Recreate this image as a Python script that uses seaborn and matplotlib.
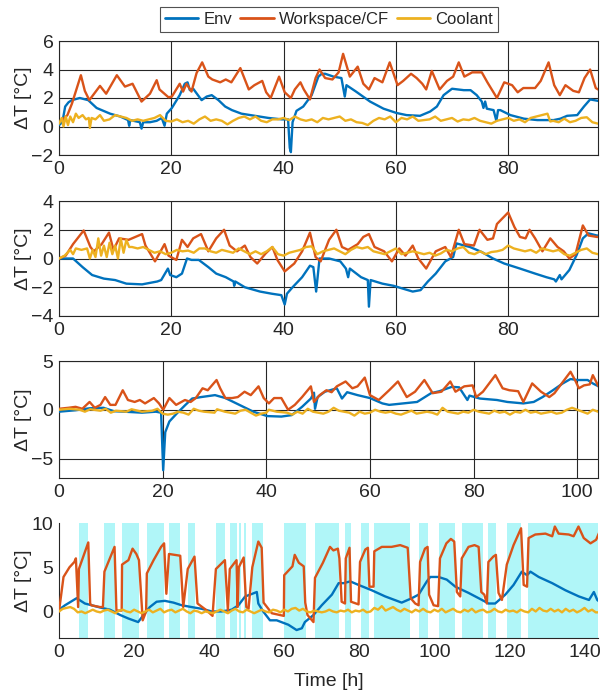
import matplotlib
matplotlib.use("Agg")
import matplotlib.pyplot as plt
from matplotlib.lines import Line2D
import numpy as np
import pandas as pd
import seaborn as sns

sns.set_style("white")
plt.rcParams['font.family'] = ['Liberation Sans', 'DejaVu Sans']

C_ENV = "#0072BD"
C_WS = "#D95319"
C_COOL = "#EDB120"
SPAN_C = "#b0f6f8"
TXT = "#262626"

# ---------------- Panel 1 ----------------
p1_env_t = [0, 0.6, 1.1, 1.7, 2.3, 3.7, 5.2, 6.7, 9.1, 10.9, 12.3, 12.5, 12.7, 14.4, 14.7, 15.0, 16.2, 17.4, 18.3, 18.8, 19.2,
            20.1, 21.5, 22.4, 22.9, 23.3, 23.9, 25.4, 26.3, 27.2, 28.4, 29.6, 30.8, 32.5, 34.9, 37.3, 39.7, 40.8, 41.1, 41.3,
            41.6, 42.3, 43.5, 45.0, 46.2, 46.8, 47.4, 48.9, 50.3, 50.9, 51.2, 52.9, 55.4, 57.8, 60.1, 61.9, 64.3, 66.1, 67.3,
            68.5, 70.0, 72.1, 73.3, 74.4, 75.3, 75.6, 75.9, 76.2, 77.4, 77.9, 78.2, 78.6, 80.4, 82.8, 85.2, 88.1, 89.3, 90.5,
            92.3, 93.5, 94.6, 96.0]
p1_env_v = [0.1, 0.3, 1.4, 1.7, 1.85, 2.0, 1.85, 1.3, 0.9, 0.7, 0.45, 0.05, 0.45, 0.3, -0.15, 0.3, 0.3, 0.4, 0.6, 0.05, 0.9,
            1.3, 2.2, 3.0, 3.1, 2.55, 2.65, 1.85, 2.1, 2.2, 1.85, 1.4, 1.15, 0.9, 0.75, 0.6, 0.5, 0.5, -1.5, -1.8,
            0.3, 1.1, 1.4, 2.2, 3.5, 3.7, 3.7, 3.5, 3.4, 2.1, 2.9, 2.45, 1.75, 1.25, 0.95, 0.8, 0.75, 1.05, 1.4,
            2.2, 2.65, 2.55, 2.55, 2.2, 1.75, 1.3, 1.75, 1.25, 1.15, 0.4, 1.15, 1.15, 0.8, 0.55, 0.45, 0.45, 0.55, 0.75,
            0.8, 1.4, 1.9, 1.8]
p1_ws_t = [0.7, 1.5, 2.3, 3.1, 3.9, 4.6, 5.4, 7.3, 8.4, 10.3, 11.75, 13.1, 14.7, 16.2, 17.4, 17.9, 19.5, 20.1, 21.5, 22.1, 22.7,
           23.6, 24.5, 25.5, 26.6, 27.3, 28.7, 29.7, 30.7, 32.3, 33.8, 34.8, 36.2, 36.9, 37.7, 39.2, 40.2, 41.3, 42.0, 43.0,
           43.6, 44.7, 45.7, 46.4, 47.4, 48.7, 49.8, 50.6, 51.8, 53.2, 54.2, 55.2, 56.2, 57.6, 58.9, 60.3, 61.3, 62.7, 63.7,
           64.7, 65.4, 66.4, 67.8, 69.1, 70.2, 71.2, 72.2, 73.6, 75.3, 76.3, 78.0, 79.3, 80.7, 81.7, 82.7, 84.8, 85.8, 87.2,
           88.2, 89.2, 90.2, 91.6, 92.6, 93.6, 94.6, 95.6, 96.0]
p1_ws_v = [0.5, 0.8, 1.6, 2.6, 3.6, 2.5, 1.85, 2.85, 2.3, 3.6, 2.8, 3.0, 1.75, 2.3, 3.25, 2.6, 2.05, 2.1, 3.0, 2.45, 3.0,
           2.45, 3.75, 4.5, 3.5, 3.3, 3.1, 3.3, 3.1, 4.1, 2.6, 2.9, 3.2, 2.4, 2.0, 3.5, 2.4, 2.0, 2.6, 3.1,
           2.6, 1.9, 3.4, 4.0, 3.4, 3.3, 3.8, 5.1, 3.5, 4.2, 3.0, 2.6, 3.4, 3.1, 4.5, 2.9, 3.2, 3.7, 3.4,
           3.0, 2.6, 3.9, 2.6, 3.2, 3.5, 4.5, 3.5, 3.8, 3.8, 3.1, 2.0, 3.1, 2.9, 2.4, 2.7, 2.7, 3.2, 4.5,
           2.9, 2.2, 2.9, 2.5, 2.4, 3.4, 4.0, 2.7, 2.6]
p1_cool_t = [0, 0.5, 0.8, 1.2, 1.6, 2.0, 2.5, 3.0, 3.5, 4.2, 4.8, 5.3, 5.5, 5.8, 6.5, 7.3, 8, 9, 10, 11, 12, 13, 14, 15, 16,
             17, 18, 19, 20, 21, 22, 23, 24, 25, 26, 27, 28, 29, 30, 31, 32, 33, 34, 35, 36, 37, 38, 39, 40, 41, 42, 43,
             44, 45, 46, 47, 48, 49, 50, 51, 52, 53, 54, 55, 56, 57, 58, 59, 60, 61, 62, 63, 64, 65, 66, 67, 68, 69, 70,
             71, 72, 73, 74, 75, 76, 77, 78, 79, 80, 81, 82, 83, 84, 85, 86, 87, 87.5, 88, 89, 90, 91, 92, 93, 94, 95, 96]
p1_cool_v = [0.2, 0.6, 0.0, 0.7, 0.1, 0.7, 0.3, 0.9, 0.6, 0.8, 0.5, 0.6, -0.1, 0.6, 0.5, 0.8, 0.4, 0.5, 0.8, 0.7, 0.6, 0.4,
             0.5, 0.4, 0.5, 0.6, 0.8, 0.4, 0.35, 0.5, 0.3, 0.4, 0.2, 0.5, 0.7, 0.4, 0.5, 0.4, 0.15, 0.4, 0.6, 0.7, 0.5,
             0.7, 0.4, 0.3, 0.5, 0.5, 0.6, 0.45, 0.7, 0.5, 0.4, 0.5, 0.3, 0.6, 0.5, 0.6, 0.7, 0.4, 0.5, 0.3, 0.25, 0.1,
             0.4, 0.6, 0.5, 0.7, 0.3, 0.6, 0.5, 0.7, 0.4, 0.45, 0.5, 0.7, 0.4, 0.5, 0.6, 0.35, 0.5, 0.45, 0.6, 0.4, 0.3,
             0.2, 0.4, 0.5, 0.6, 0.4, 0.5, 0.3, 0.6, 0.7, 0.8, 0.9, 0.35, 0.4, 0.3, 0.55, 0.3, 0.4, 0.6, 0.65, 0.3, 0.2]

# ---------------- Panel 2 ----------------
p2_env_t = [0, 2.5, 4.2, 5.9, 8.0, 10.0, 12.0, 14.8, 17.5, 18.2, 19.4, 19.8, 20.9, 21.9, 22.8, 23.6, 24.9, 26.6, 28.0, 29.7,
            31.1, 31.2, 31.4, 33.1, 35.8, 37.9, 39.6, 40.2, 40.6, 41.6, 43.3, 44.7, 45.3, 45.8, 46.4, 48.1, 50.1, 51.1,
            51.5, 51.8, 53.8, 55.0, 55.2, 55.5, 57.6, 59.6, 61.7, 63.0, 64.4, 65.7, 67.1, 68.8, 70.2, 70.8, 72.2, 73.2,
            75.3, 77.3, 79.3, 82.1, 84.8, 86.8, 88.2, 88.5, 89.2, 89.5, 90.9, 92.2, 93.3, 94.3, 95.8, 96.0]
p2_env_v = [0, 0, -0.6, -1.15, -1.4, -1.5, -1.75, -1.8, -1.6, -1.5, -0.7, -1.15, -1.3, -1.05, 0, -0.1, -0.1, -0.6, -1.05, -1.3,
            -1.6, -1.9, -1.6, -2.0, -2.3, -2.45, -2.55, -3.2, -2.45, -2.0, -1.3, -0.5, -0.6, -2.3, 0.0, 0.0, -0.2, -0.7,
            -1.3, -0.7, -1.3, -1.5, -3.35, -1.5, -1.75, -1.9, -2.15, -2.3, -2.2, -1.6, -1.05, -0.2, 0.1, 1.05, 0.9, 0.8,
            0.45, 0.0, -0.35, -0.7, -1.05, -1.3, -1.45, -1.6, -1.15, -1.45, -0.8, 0.25, 1.4, 1.75, 1.6, 1.6]
p2_ws_t = [0, 1.2, 2.5, 4.4, 5.6, 6.2, 7.6, 8.9, 9.7, 10.7, 12.4, 14.8, 15.4, 17.1, 18.8, 19.5, 20.9, 21.9, 22.9, 23.9, 25.3,
           26.6, 28.0, 29.4, 30.4, 31.7, 33.1, 34.1, 35.3, 36.8, 38.0, 38.9, 40.2, 41.9, 43.3, 44.7, 45.7, 46.6, 48.1,
           49.4, 50.4, 51.5, 53.2, 54.2, 55.2, 56.2, 57.9, 59.3, 60.6, 61.7, 63.0, 64.0, 65.4, 67.1, 68.8, 69.8, 71.2,
           72.2, 73.9, 74.9, 76.3, 77.3, 78.0, 80.0, 81.1, 82.1, 83.1, 83.8, 84.8, 86.1, 87.5, 88.8, 89.9, 90.9, 92.0,
           93.3, 94.3, 95.8, 96.0]
p2_ws_v = [0, 0.2, 1.0, 1.95, 0.8, 0.5, 1.0, 1.8, 0.6, 1.4, 1.3, 1.7, 0.9, -0.2, 1.0, 0.2, -0.1, 1.3, 0.8, 1.4, 1.7,
           0.5, 1.4, 2.0, 0.9, 0.5, 0.9, 0.1, -0.35, 0.35, 0.8, -0.1, -0.9, -0.35, 0.5, 1.8, 0.1, -0.2, 1.3,
           2.0, 0.8, 0.6, 1.0, 1.5, 1.7, 0.8, 0.5, -0.2, 0.7, 0.2, 0.9, 0.0, -0.7, 0.5, 0.8, 0.1, 2.0,
           1.0, 0.9, 2.0, 1.3, 1.4, 2.4, 3.2, 2.2, 1.5, 1.4, 2.0, 1.4, 0.5, 1.4, 0.8, 0.5, 0.0, 0.3,
           2.3, 1.6, 1.5, 1.5]
p2_cool_t = [0, 1, 2, 2.5, 3, 4, 5, 5.5, 6, 6.5, 7, 7.5, 8, 8.5, 9, 9.5, 10, 10.5, 11, 11.5, 12, 12.5, 13, 14, 15, 16,
             17, 18, 19, 20, 21, 22, 23, 24, 25, 26, 27, 28, 29, 30, 31, 32, 33, 34, 35, 36, 37, 38, 39, 40, 41, 42, 43,
             44, 45, 46, 47, 48, 49, 50, 51, 52, 53, 54, 55, 56, 57, 58, 59, 60, 61, 62, 63, 64, 65, 66, 67, 68, 69, 70,
             71, 72, 73, 74, 75, 76, 77, 78, 79, 80, 81, 82, 83, 84, 85, 86, 87, 88, 89, 90, 91, 92, 93, 94, 95, 96]
p2_cool_v = [0, 0.2, 0.6, 0.3, 0.7, 0.6, 0.7, 0.0, 0.6, 0.1, 1.4, 0.2, 0.9, 0.1, 1.1, 0.3, 0.9, 0.0, 1.4, 0.4, 1.3, 0.8,
             0.8, 0.7, 0.8, 0.6, 0.4, 0.5, 0.3, 0.4, 0.6, 0.5, 0.55, 0.4, 0.7, 0.7, 0.5, 0.4, 0.6, 0.5, 0.4, 0.7, 0.5,
             0.3, 0.5, 0.3, 0.5, 0.8, 0.3, 0.2, 0.4, 0.5, 0.6, 0.8, 0.85, 0.3, 0.5, 0.6, 0.7, 0.5, 0.3, 0.6, 0.8, 0.7,
             0.8, 0.5, 0.4, 0.3, 0.5, 0.7, 0.3, 0.4, 0.5, 0.4, 0.3, 0.4, 0.2, 0.35, 0.6, 0.5, 0.7, 0.8, 0.4, 0.3, 0.5,
             0.3, 0.45, 0.5, 0.6, 0.9, 0.7, 0.6, 0.5, 0.6, 0.4, 0.7, 0.6, 0.5, 0.6, 0.3, 0.2, 0.4, 0.6, 0.7, 0.4, 0.3]

# ---------------- Panel 3 ----------------
p3_env_t = [0, 3.2, 5.9, 8.6, 10.6, 12.6, 16.0, 18.7, 19.7, 20.1, 20.5, 21.3, 22.7, 24.4, 25.7, 27.4, 30.1, 32.1, 34.8, 37.5,
            40.2, 42.9, 44.9, 46.9, 48.6, 49.2, 49.4, 49.9, 51.3, 53.6, 54.6, 55.6, 57.6, 60.0, 62.4, 63.7, 66.4, 69.1,
            71.8, 73.4, 75.8, 77.2, 78.8, 79.2, 81.2, 84.5, 86.5, 89.6, 91.6, 93.3, 95.3, 97.2, 98.7, 100.0, 102.0, 103.0,
            104.1]
p3_env_v = [-0.2, -0.05, 0.15, 0.2, -0.15, -0.2, -0.3, -0.2, -0.3, -6.2, -2.3, -1.2, -0.4, 0.5, 1.15, 1.3, 1.5, 1.2, 0.5, -0.2,
            -0.65, -0.7, -0.55, 0.3, 1.15, 1.75, 0.1, 1.3, 1.85, 2.2, 1.15, 1.8, 1.5, 1.2, 0.65, 0.5, 0.65, 0.8,
            1.7, 1.9, 2.35, 2.3, 1.0, 1.45, 1.15, 1.0, 0.8, 0.65, 0.8, 1.3, 2.0, 2.7, 3.15, 3.05, 3.05, 2.7,
            2.4]
p3_ws_t = [0, 1.8, 3.2, 4.5, 5.9, 6.9, 8.0, 8.9, 9.9, 10.9, 12.3, 13.3, 14.6, 15.6, 16.6, 18.3, 19.3, 20.1, 21.3, 22.6, 24.3,
           25.4, 26.4, 27.7, 28.7, 30.4, 31.1, 32.1, 33.4, 34.5, 35.8, 37.0, 38.5, 39.5, 40.5, 41.5, 42.9, 44.2, 45.5,
           46.9, 48.6, 49.2, 50.3, 51.6, 52.6, 53.6, 55.3, 56.6, 57.6, 59.0, 60.0, 61.7, 63.7, 65.4, 67.1, 68.7, 70.5,
           72.1, 73.8, 75.5, 76.5, 78.2, 79.8, 80.5, 81.8, 84.2, 85.6, 86.9, 88.6, 89.6, 91.3, 93.0, 94.6, 95.6, 97.0,
           98.7, 99.7, 100.3, 101.3, 102.4, 103.0, 104.1]
p3_ws_v = [0.1, 0.2, 0.3, 0.1, 0.8, 0.2, 0.5, 1.3, 0.5, 0.5, 2.0, 1.0, 0.8, 1.0, 0.65, 1.2, 0.65, 0.0, 1.2, 0.5, 1.0,
           0.8, 1.2, 2.2, 2.0, 3.05, 2.2, 1.2, 1.2, 1.3, 1.85, 1.5, 2.4, 1.2, 0.65, 1.2, 1.2, 0.0, 0.5,
           1.3, 2.4, 0.8, 1.5, 2.0, 1.8, 2.4, 2.9, 2.2, 2.4, 3.3, 1.5, 1.0, 2.0, 2.9, 1.3, 1.85, 3.05,
           1.7, 1.85, 2.9, 1.85, 2.4, 2.5, 1.3, 1.85, 3.55, 2.2, 2.0, 1.9, 0.8, 2.7, 1.85, 1.3, 1.7, 2.7,
           3.9, 2.9, 2.2, 2.5, 2.6, 3.55, 2.4]
p3_cool_t = [0, 2, 4, 5, 6, 8, 9, 10, 11, 13, 14, 16, 18, 19, 20, 21, 22, 23, 24, 25, 26, 27, 28, 30, 30.5, 32, 34, 35, 36,
             37, 38, 39, 40, 40.5, 42, 44, 45, 46, 47, 48, 49, 50, 51, 52, 53, 54, 56, 57, 58, 59, 60, 61, 62, 63, 64,
             65, 66, 67, 68, 69, 70, 71, 72, 73, 74, 75, 76, 77, 78, 79, 80, 81, 82, 83, 84, 85, 86, 87, 88, 89, 90, 91,
             92, 93, 94, 95, 96, 97, 98, 99, 100, 101, 102, 103, 104]
p3_cool_v = [0.0, 0.1, 0.0, -0.2, 0.05, -0.1, 0.1, -0.3, -0.1, -0.2, 0.05, -0.2, -0.1, 0.1, -0.4, -0.5, -0.4, -0.2, -0.3,
             -0.5, 0.1, -0.1, -0.2, -0.3, 0.05, -0.2, -0.4, -0.1, 0.0, -0.3, -0.6, -0.4, -0.3, 0.0, -0.2, -0.3, -0.5,
             -0.2, -0.4, 0.1, -0.2, -0.3, -0.4, -0.2, 0.2, -0.1, -0.3, -0.6, -0.2, -0.4, -0.3, 0.0, -0.2, -0.3, -0.2,
             -0.4, -0.5, -0.3, -0.1, -0.4, -0.3, -0.2, -0.3, -0.5, 0.2, -0.2, -0.3, -0.4, -0.2, -0.3, 0.0, -0.2, -0.3,
             -0.4, -0.1, -0.3, -0.2, -0.5, -0.2, -0.3, 0.0, -0.3, -0.2, -0.4, -0.3, -0.2, -0.4, -0.3, 0.0, 0.2, 0.0,
             -0.2, -0.4, 0.0, -0.2]

# ---------------- Panel 4 ----------------
p4_env_t = [0, 1.6, 4.7, 6.9, 8.7, 11.4, 13.6, 16.3, 18.5, 21.1, 22.5, 24.2, 26.0, 28.2, 30.5, 32.7, 35.3, 38.0, 40.7, 43.3,
            46.0, 47.8, 49.6, 50.9, 52.7, 53.1, 54.4, 56.2, 58.0, 61.1, 63.3, 64.7, 65.5, 67.8, 70.0, 72.7, 74.5, 75.8,
            77.6, 79.8, 83.3, 86.9, 91.3, 94.0, 95.8, 98.0, 98.9, 101.1, 103.3, 105.6, 109.1, 112.7, 114.4, 116.2, 118.9,
            121.1, 123.3, 124.7, 125.6, 127.8, 131.4, 134.9, 138.5, 141.2, 142.5, 143.4, 144.0]
p4_env_v = [0.2, 0.7, 1.5, 0.9, 0.7, 0.4, 0.2, -0.4, -0.8, -1.2, -0.4, 0.5, 1.1, 1.2, 1.0, 0.7, 0.5, 0.3, 0.0, 0.0,
            0.2, 0.7, 1.7, 1.9, 2.2, 0.9, 0.0, -1.0, -1.0, -1.5, -2.1, -1.9, -1.2, -0.4, 0.7, 1.9, 3.2, 3.2,
            3.4, 3.0, 2.4, 1.7, 1.0, 1.5, 1.9, 3.4, 3.9, 3.9, 3.6, 2.8, 2.1, 1.3, 0.9, 0.9, 1.9,
            3.0, 4.5, 4.1, 4.5, 3.9, 3.2, 2.4, 1.7, 1.3, 2.2, 1.3, 1.1]
p4_ws_t = [0, 1.2, 2.8, 4.1, 4.5, 5.1, 5.3, 7.8, 8.3, 8.6, 10.9, 11.7, 12.1, 14.8, 15.3, 16.7, 16.8, 18.5, 19.6, 20.6, 21.3,
           22.3, 23.2, 23.4, 25.2, 27.2, 28.0, 28.6, 29.3, 32.3, 33.1, 34.3, 36.1, 36.9, 39.4, 40.9, 41.8, 44.2, 45.0,
           45.5, 47.3, 47.6, 47.9, 49.2, 49.9, 50.5, 51.5, 53.1, 54.0, 54.5, 56.7, 59.9, 60.0, 62.2, 62.8, 63.9, 65.2,
           65.6, 66.2, 67.8, 68.2, 70.3, 72.2, 73.1, 74.3, 74.7, 75.3, 76.2, 76.4, 77.4, 77.8, 79.8, 80.2, 81.6, 82.3,
           82.7, 83.8, 84.0, 86.0, 88.6, 90.9, 92.9, 93.7, 94.9, 95.8, 96.2, 97.5, 98.2, 98.6, 99.8, 101.0, 101.5, 103.2,
           104.4, 105.3, 106.0, 106.9, 107.3, 109.1, 110.7, 111.8, 112.5, 113.3, 114.0, 114.4, 115.7, 116.4, 117.1,
           118.0, 119.3, 121.1, 123.1, 123.8, 124.7, 125.1, 126.9, 129.6, 131.4, 132.1, 133.1, 135.8, 137.1, 138.4,
           139.8, 141.6, 143.1, 144.0]
p4_ws_v = [0.0, 3.9, 5.0, 5.6, 6.0, 0.5, 4.8, 7.8, 0.9, 0.7, 0.5, 0.5, 4.5, 7.3, 0.1, 0.1, 5.3, 5.8, 7.1, 6.5, 5.8,
           -1.0, 0.0, 4.3, 5.8, 7.3, 7.7, 2.0, 6.5, 6.3, 0.5, 4.8, 6.2, 0.9, 0.1, -0.5, 4.8, 5.8, 0.1,
           4.8, 5.8, 0.5, 5.0, 6.1, 0.5, 0.3, 5.0, 7.9, 7.2, 1.0, -0.2, -0.5, 4.1, 5.1, 6.4, 5.5, 5.1,
           1.0, -0.4, -1.2, 3.8, 5.5, 7.3, 6.9, 7.1, 6.0, 1.1, 0.9, 6.0, 7.2, 1.1, 0.8, 5.6, 7.0, 7.2,
           2.8, 2.8, 6.8, 7.3, 7.3, 7.5, 7.2, 1.5, 0.9, 0.7, 5.6, 7.1, 7.3, 1.9, 0.7, 0.6, 6.0, 7.7,
           8.2, 7.9, 2.2, 1.7, 6.0, 7.3, 7.5, 7.3, 2.2, 1.9, 0.9, 5.6, 6.2, 6.4, 2.1,
           1.3, 5.3, 7.5, 9.4, 3.0, 2.8, 8.3, 8.7, 8.8, 8.5, 9.6, 8.8, 8.7, 8.5, 9.6,
           8.3, 7.7, 8.1, 9.0]
p4_cool_t = list(range(0, 145))
p4_cool_v = [0.0, 0.3, 0.4, 0.5, 0.3, -0.1, 0.0, -0.2, 0.0, 0.2, 0.0, -0.1, 0.1, 0.2, 0.0, -0.2, 0.1, 0.2, 0.0, -0.1,
             0.2, 0.0, -0.2, 0.0, 0.2, -0.1, 0.1, 0.3, -0.1, 0.1, 0.2, -0.1, 0.1, 0.3, 0.0, -0.2, 0.1, 0.0, -0.2, 0.0,
             -0.1, -0.2, 0.0, 0.2, 0.0, -0.2, 0.1, 0.3, 0.0, -0.1, 0.2, 0.0, -0.2, 0.0, 0.2, 0.0, -0.1, 0.2, 0.1, -0.1,
             0.2, 0.0, 0.3, 0.4, 0.1, 0.3, 0.0, -0.1, 0.1, 0.0, -0.1, 0.0, 0.2, 0.0, -0.1, 0.1, 0.0, 0.2, -0.1, 0.1,
             0.0, 0.2, -0.1, 0.0, 0.4, 0.2, 0.6, 0.1, 0.3, 0.5, 0.2, 0.0, 0.3, 0.1, -0.1, 0.2, 0.0, 0.3, 0.0, -0.1,
             0.2, 0.0, 0.3, -0.1, 0.1, 0.3, 0.0, -0.1, 0.2, 0.0, 0.3, -0.1, 0.1, 0.2, -0.1, 0.0, 0.3, 0.0, -0.1, 0.2,
             0.0, 0.1, -0.1, 0.2, 0.0, -0.1, 0.3, 0.0, 0.4, 0.1, 0.0, 0.3, 0.0, 0.2, -0.1, 0.3, 0.0, 0.2, -0.1, 0.1,
             0.4, 0.0, 0.2, -0.1, -0.1]
p4_span_start = [5.3, 11.9, 16.8, 23.4, 29.3, 34.3, 41.8, 45.5, 47.9, 49.2, 51.5, 60.0, 68.3, 76.3, 80.5, 84.0, 95.9, 101.2,
                 107.3, 114.3, 119.4, 124.9]
p4_span_end = [7.8, 14.8, 21.3, 28.0, 32.3, 36.1, 44.2, 47.3, 48.6, 49.9, 54.3, 65.9, 74.7, 77.9, 82.5, 93.5, 98.3, 105.4,
               113.0, 116.5, 123.2, 144.0]

SERIES = ["Env", "Workspace/CF", "Coolant"]
PALETTE = {"Env": C_ENV, "Workspace/CF": C_WS, "Coolant": C_COOL}

panels = [
    dict(env=(p1_env_t, p1_env_v), ws=(p1_ws_t, p1_ws_v), cool=(p1_cool_t, p1_cool_v),
         xlim=(0, 96), ylim=(-2, 6), yticks=[-2, 0, 2, 4, 6], xticks=[0, 20, 40, 60, 80], rect=(41, 155)),
    dict(env=(p2_env_t, p2_env_v), ws=(p2_ws_t, p2_ws_v), cool=(p2_cool_t, p2_cool_v),
         xlim=(0, 96), ylim=(-4, 4), yticks=[-4, -2, 0, 2, 4], xticks=[0, 20, 40, 60, 80], rect=(201, 316)),
    dict(env=(p3_env_t, p3_env_v), ws=(p3_ws_t, p3_ws_v), cool=(p3_cool_t, p3_cool_v),
         xlim=(0, 104), ylim=(-7, 5), yticks=[-5, 0, 5], xticks=[0, 20, 40, 60, 80, 100], rect=(361, 478)),
    dict(env=(p4_env_t, p4_env_v), ws=(p4_ws_t, p4_ws_v), cool=(p4_cool_t, p4_cool_v),
         xlim=(0, 143.6), ylim=(-3, 10), yticks=[0, 5, 10], xticks=[0, 20, 40, 60, 80, 100, 120, 140], rect=(523, 638)),
]

W, H = 600, 698
fig = plt.figure(figsize=(W / 100, H / 100), dpi=100)
L, R = 59, 598

for i, p in enumerate(panels):
    top, bot = p["rect"]
    ax = fig.add_axes([L / W, 1 - bot / H, (R - L) / W, (bot - top) / H])
    frames = []
    for name, key in zip(SERIES, ["env", "ws", "cool"]):
        t, v = p[key]
        frames.append(pd.DataFrame({"t": t, "dT": v, "series": name}))
    df = pd.concat(frames, ignore_index=True)
    if i == 3:
        for a, b in zip(p4_span_start, p4_span_end):
            ax.axvspan(a, b, color=SPAN_C, lw=0, zorder=0)
    sns.lineplot(data=df, x="t", y="dT", hue="series", hue_order=SERIES, palette=PALETTE,
                 estimator=None, legend=False, lw=1.7, ax=ax, zorder=3)
    ax.set_xlim(*p["xlim"])
    ax.set_ylim(*p["ylim"])
    ax.set_xticks(p["xticks"])
    ax.set_yticks(p["yticks"])
    ax.tick_params(direction="in", length=4, width=0.8, labelsize=14, colors=TXT, pad=4)
    ax.set_ylabel("ΔT [°C]", fontsize=14, color=TXT)
    if i < 3:
        ax.set_xlabel("")
        ax.grid(True, color="#262626", lw=0.8)
        for s in ax.spines.values():
            s.set_color("#262626")
            s.set_linewidth(0.8)
    else:
        ax.set_xlabel("Time [h]", fontsize=14, color=TXT, labelpad=9)
        ax.grid(False)
        ax.spines["top"].set_visible(False)
        ax.spines["right"].set_visible(False)
        for s in ["left", "bottom"]:
            ax.spines[s].set_color("#262626")
            ax.spines[s].set_linewidth(0.8)
    ax.set_axisbelow(True)
    ax.yaxis.set_label_coords(-0.05, 0.5)

handles = [Line2D([], [], color=PALETTE[s], lw=2) for s in SERIES]
leg = fig.legend(handles, SERIES, loc="center", bbox_to_anchor=(329 / W, 1 - 19.5 / H), ncol=3,
                 frameon=True, fancybox=False, edgecolor="#262626", fontsize=12, handlelength=2.0,
                 handletextpad=0.3, columnspacing=0.5, borderpad=0.3, borderaxespad=0)
leg.get_frame().set_linewidth(0.8)
for txt in leg.get_texts():
    txt.set_color(TXT)

fig.savefig("out.png", dpi=100)
